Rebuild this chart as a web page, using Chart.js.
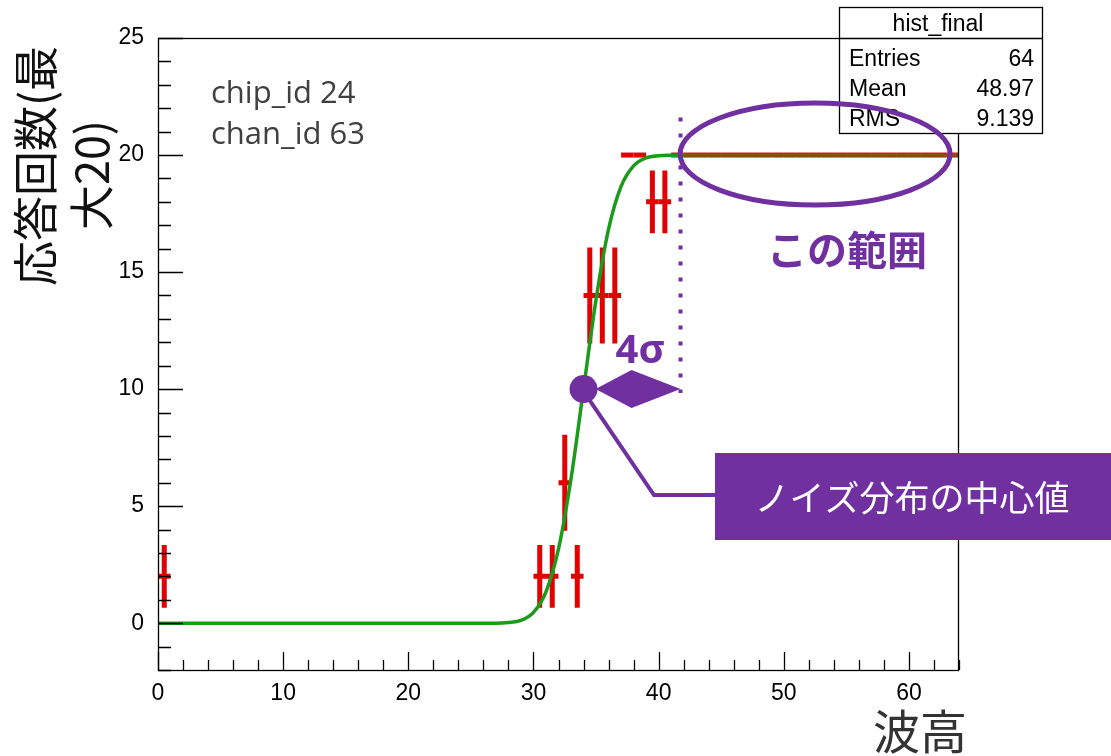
<!DOCTYPE html>
<html>
<head>
<meta charset="utf-8">
<script src="https://cdn.jsdelivr.net/npm/chart.js@4.4.1/dist/chart.umd.min.js"></script>
<style>
  html, body { margin: 0; padding: 0; background: #fff; }
</style>
</head>
<body>
<canvas id="chart" width="1111" height="756"></canvas>
<script>
// histogram bins (centres), contents and errors
const binCenters = [0.5, 30.5, 31.5, 32.5, 33.5, 34.5, 35.5, 36.5, 37.5, 38.5, 39.5, 40.5,
  41.5, 42.5, 43.5, 44.5, 45.5, 46.5, 47.5, 48.5, 49.5, 50.5, 51.5, 52.5,
  53.5, 54.5, 55.5, 56.5, 57.5, 58.5, 59.5, 60.5, 61.5, 62.5, 63.5];
const binCounts = [2, 2, 2, 6, 2, 14, 14, 14, 20, 20, 18, 18,
  20, 20, 20, 20, 20, 20, 20, 20, 20, 20, 20, 20,
  20, 20, 20, 20, 20, 20, 20, 20, 20, 20, 20];
const binErrors = [1.34, 1.34, 1.34, 2.05, 1.34, 2.05, 2.05, 2.05, 0, 0, 1.34, 1.34,
  0, 0, 0, 0, 0, 0, 0, 0, 0, 0, 0, 0,
  0, 0, 0, 0, 0, 0, 0, 0, 0, 0, 0];

// fitted curve
const fitX = [0, 26, 27, 28, 29, 30, 31, 32, 33, 34, 35, 36, 37, 38, 39, 40, 41, 42, 64];
const fitY = [0, 0, 0, 0.03, 0.12, 0.46, 1.34, 3.17, 6.17, 10, 13.83, 16.83, 18.66, 19.54, 19.88, 19.97, 19.99, 20, 20];

const xTicks = [0, 10, 20, 30, 40, 50, 60];
const yTicks = [0, 5, 10, 15, 20, 25];

const statsTitle = 'hist_final';
const statsLabels = ['Entries', 'Mean', 'RMS'];
const statsValues = ['64', '48.97', '9.139'];

const noiseCenter = 34;
const fourSigmaEdge = 41.75;

const purple = '#7030a0';

const overlay = {
  id: 'overlay',
  beforeDatasetsDraw(chart) {
    const { ctx, scales: { x, y } } = chart;
    ctx.save();
    ctx.strokeStyle = '#e30000';
    ctx.lineWidth = 5;
    binCenters.forEach((c, i) => {
      const px = x.getPixelForValue(c);
      const py = y.getPixelForValue(binCounts[i]);
      ctx.beginPath();
      ctx.moveTo(x.getPixelForValue(c - 0.5), py);
      ctx.lineTo(x.getPixelForValue(c + 0.5), py);
      if (binErrors[i] > 0) {
        ctx.moveTo(px, y.getPixelForValue(binCounts[i] + binErrors[i]));
        ctx.lineTo(px, y.getPixelForValue(binCounts[i] - binErrors[i]));
      }
      ctx.stroke();
    });
    ctx.restore();
  },
  afterDraw(chart) {
    const { ctx, chartArea: a, scales: { x, y } } = chart;
    ctx.save();

    // frame and inward ticks
    ctx.strokeStyle = '#000';
    ctx.lineWidth = 1.3;
    ctx.strokeRect(a.left + 0.5, a.top + 0.5, a.right - a.left - 1, a.bottom - a.top);
    ctx.beginPath();
    for (let v = 0; v <= 64; v += 2) {
      const px = Math.round(x.getPixelForValue(v)) + 0.5;
      const len = v % 10 === 0 ? 18 : 10;
      ctx.moveTo(px, a.bottom);
      ctx.lineTo(px, a.bottom - len);
    }
    for (let v = -2; v <= 25; v++) {
      const py = Math.round(y.getPixelForValue(v)) + 0.5;
      const len = v % 5 === 0 ? 25 : 13;
      ctx.moveTo(a.left, py);
      ctx.lineTo(a.left + len, py);
    }
    ctx.stroke();

    // chip / channel text
    ctx.fillStyle = '#404040';
    ctx.font = '31px "Open Sans"';
    ctx.textAlign = 'left';
    ctx.textBaseline = 'alphabetic';
    ctx.fillText('chip_id 24', 211, 103);
    ctx.fillText('chan_id 63', 211, 144);

    // stats box
    ctx.lineWidth = 1.3;
    ctx.fillStyle = '#fff';
    ctx.fillRect(839, 7, 203, 126);
    ctx.strokeStyle = '#000';
    ctx.strokeRect(839.5, 7.5, 203, 126);
    ctx.beginPath();
    ctx.moveTo(839, 38.5);
    ctx.lineTo(1042, 38.5);
    ctx.stroke();
    ctx.fillStyle = '#000';
    ctx.font = '23px "Liberation Sans"';
    ctx.textAlign = 'center';
    ctx.fillText(statsTitle, 938, 31);
    statsLabels.forEach((l, i) => {
      ctx.textAlign = 'left';
      ctx.fillText(l, 849, 66 + i * 30);
      ctx.textAlign = 'right';
      ctx.fillText(statsValues[i], 1034, 66 + i * 30);
    });

    // annotation: range ellipse
    ctx.strokeStyle = purple;
    ctx.fillStyle = purple;
    ctx.lineWidth = 5;
    ctx.beginPath();
    ctx.ellipse(x.getPixelForValue(52.5), y.getPixelForValue(20) - 1, 135, 51, 0, 0, Math.PI * 2);
    ctx.stroke();
    ctx.font = 'bold 40px "Noto Sans CJK JP"';
    ctx.textAlign = 'center';
    ctx.textBaseline = 'middle';
    ctx.fillText('この範囲', 847, 250);

    // dotted 4 sigma line
    const ex = x.getPixelForValue(fourSigmaEdge);
    const cy = y.getPixelForValue(10);
    ctx.lineWidth = 4;
    ctx.setLineDash([4, 12]);
    ctx.beginPath();
    ctx.moveTo(ex, y.getPixelForValue(21.6));
    ctx.lineTo(ex, cy + 4);
    ctx.stroke();
    ctx.setLineDash([]);

    // centre dot, arrow and 4 sigma label
    const cx = x.getPixelForValue(noiseCenter);
    ctx.beginPath();
    ctx.arc(cx, cy, 14, 0, Math.PI * 2);
    ctx.fill();
    const mid = cx + 48;
    ctx.beginPath();
    ctx.moveTo(cx + 12, cy);
    ctx.lineTo(mid, cy - 19);
    ctx.lineTo(ex, cy);
    ctx.lineTo(mid, cy + 19);
    ctx.closePath();
    ctx.fill();
    ctx.font = 'bold 40px "Open Sans"';
    ctx.fillText('4σ', 640, 352);

    // callout
    ctx.lineWidth = 4;
    ctx.beginPath();
    ctx.moveTo(cx + 4, cy + 8);
    ctx.lineTo(654, 495);
    ctx.lineTo(716, 495);
    ctx.stroke();
    ctx.fillRect(715, 453, 396, 87);
    ctx.fillStyle = '#fff';
    ctx.font = '35px "Noto Sans CJK JP"';
    ctx.fillText('ノイズ分布の中心値', 912, 498);

    // axis titles
    ctx.fillStyle = '#111';
    ctx.font = '45px "Noto Sans CJK JP"';
    ctx.save();
    ctx.translate(36, 166);
    ctx.rotate(-Math.PI / 2);
    ctx.fillText('応答回数(最', 0, 0);
    ctx.restore();
    ctx.save();
    ctx.translate(92, 175);
    ctx.rotate(-Math.PI / 2);
    ctx.fillText('大20)', 0, 0);
    ctx.restore();
    ctx.fillStyle = '#333';
    ctx.font = '47px "Noto Sans CJK JP"';
    ctx.fillText('波高', 920, 731);

    ctx.restore();
  }
};

new Chart(document.getElementById('chart'), {
  type: 'scatter',
  data: {
    datasets: [{
      data: fitX.map((v, i) => ({ x: v, y: fitY[i] })),
      showLine: true,
      borderColor: '#1c9a1c',
      borderWidth: 3.5,
      pointRadius: 0,
      cubicInterpolationMode: 'monotone',
      segment: {
        borderColor: c => (c.p0.parsed.y >= 20 && c.p1.parsed.y >= 20 ? '#7a5a08' : undefined)
      }
    }]
  },
  options: {
    responsive: false,
    animation: false,
    devicePixelRatio: 1,
    layout: { padding: { left: 0, top: 38, right: 152, bottom: 0 } },
    plugins: { legend: { display: false }, tooltip: { enabled: false } },
    scales: {
      x: {
        type: 'linear',
        min: 0,
        max: 64,
        grid: { display: false },
        border: { display: false },
        ticks: { color: '#000', font: { family: 'Liberation Sans', size: 23 }, padding: 2 },
        afterBuildTicks: s => { s.ticks = xTicks.map(v => ({ value: v })); },
        afterFit: s => { s.height = 86; }
      },
      y: {
        type: 'linear',
        min: -2,
        max: 25,
        grid: { display: false },
        border: { display: false },
        ticks: { color: '#000', font: { family: 'Liberation Sans', size: 23 }, padding: 6 },
        afterBuildTicks: s => { s.ticks = yTicks.map(v => ({ value: v })); },
        afterFit: s => { s.width = 158; }
      }
    }
  },
  plugins: [overlay]
});
</script>
</body>
</html>
